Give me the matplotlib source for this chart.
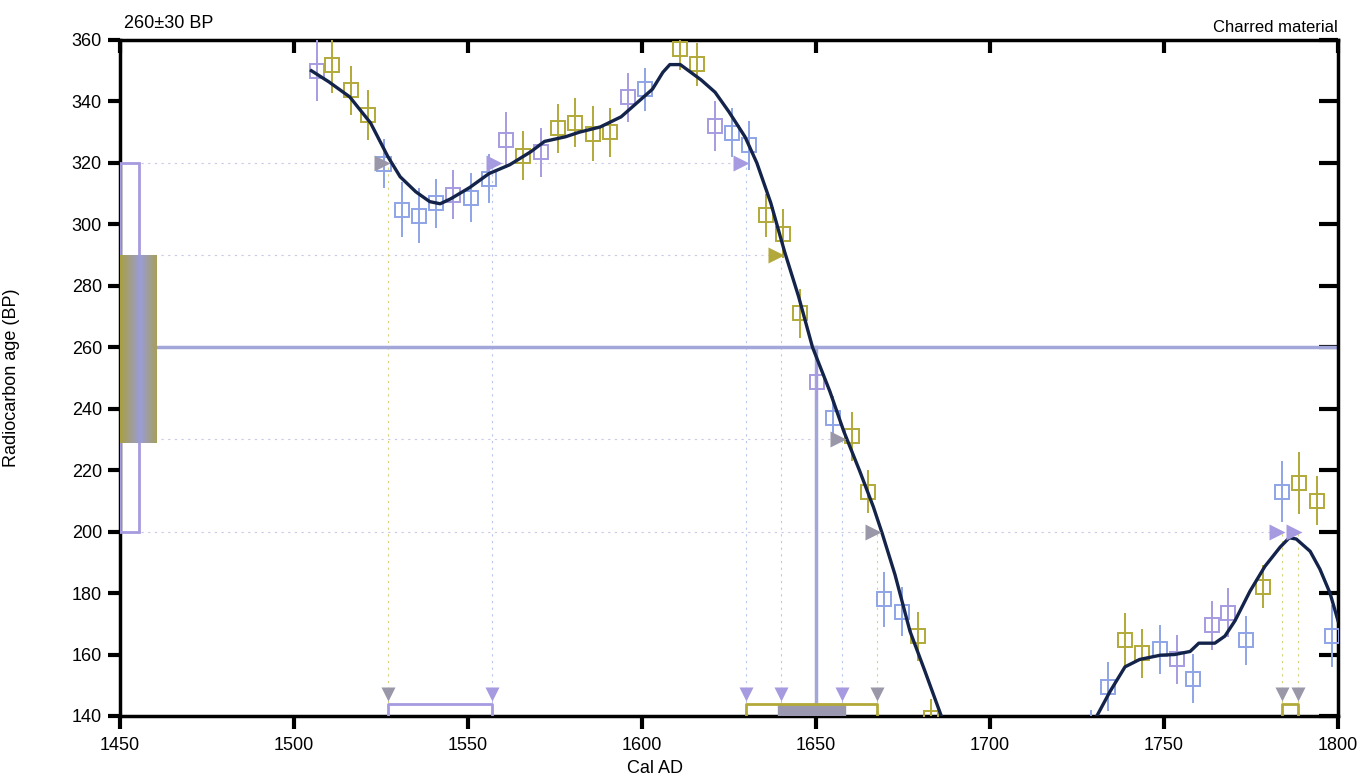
import matplotlib.pyplot as plt
import numpy as np

# calibration curve (two visible segments)
curve_a_year = [1505, 1510, 1516, 1522, 1527, 1530.5, 1535, 1539, 1542, 1545, 1550.5,
                1556, 1562, 1568, 1572, 1578, 1582, 1588, 1594, 1599, 1603, 1606,
                1608, 1611, 1614, 1617, 1621, 1625, 1629.6, 1633, 1637, 1641, 1645, 1649,
                1654, 1658, 1662.6, 1666.5, 1669, 1672.7, 1677, 1681.3, 1686]
curve_a_bp = [350, 346.4, 341.5, 333, 322, 315.5, 310.6, 307.4, 306.7, 308.3, 312,
              316.5, 319.4, 323.6, 327, 328.5, 330, 331.7, 335, 340, 344, 349.5,
              352, 352, 349.5, 347, 343, 336.6, 328.5, 320, 307, 291, 276.5, 260,
              245.6, 232.6, 219.6, 208, 199.5, 186, 167.6, 154.6, 140]
curve_b_year = [1730.7, 1734.5, 1738.8, 1743, 1749, 1753, 1757.5, 1760, 1764.6, 1767.5,
                1770.4, 1774.7, 1779, 1783.4, 1786, 1788, 1792, 1794.8, 1797.7, 1800]
curve_b_bp = [140, 148, 156, 158.4, 159.8, 160, 161, 163.7, 163.7, 166,
              171, 180.6, 188.7, 195, 198, 197.6, 193.6, 187.8, 180, 171]

# measured data points
pt_year = [1506.6, 1511, 1516.4, 1521.3, 1525.9, 1531, 1536, 1540.7, 1545.7, 1550.9,
           1556, 1560.8, 1565.8, 1571, 1575.9, 1580.8, 1585.8, 1590.8, 1596, 1600.9,
           1611, 1615.7, 1621, 1625.8, 1630.7, 1635.6, 1640.5, 1645.4, 1650.2, 1654.9,
           1660.3, 1665, 1669.5, 1674.6, 1679.3, 1683, 1729, 1734, 1738.8, 1743.6,
           1748.9, 1753.6, 1758.4, 1763.7, 1768.5, 1773.7, 1778.5, 1784, 1788.9,
           1793.9, 1798.2]
pt_bp = [350, 351.8, 343.7, 335.6, 319.8, 304.8, 302.8, 306.9, 309.6, 308.7,
         314.9, 327.5, 322.3, 323.4, 331.2, 333.1, 329.5, 329.9, 341.3, 344,
         357.2, 352.1, 332, 329.8, 325.8, 303, 297, 271, 248.8, 237,
         231, 213, 178, 174, 166, 139.4, 135, 149.5, 164.6, 160.4,
         161.7, 158.4, 152.2, 169.5, 173.6, 164.6, 182, 213, 215.8,
         210, 166]
pt_err = [10, 9, 8, 8, 8, 9, 9, 8, 8, 8,
          8, 9, 8, 8, 8, 8, 9, 8, 8, 7,
          7, 7, 8, 8, 8, 7, 8, 8, 6, 7,
          8, 7, 9, 8, 8, 6, 7, 8, 9, 8,
          8, 8, 8, 8, 8, 8, 7, 10, 10,
          8, 10]
pt_kind = ['L', 'O', 'O', 'O', 'B', 'B', 'B', 'B', 'L', 'B',
           'B', 'L', 'O', 'L', 'O', 'O', 'O', 'O', 'L', 'B',
           'O', 'O', 'L', 'B', 'B', 'O', 'O', 'O', 'L', 'B',
           'O', 'O', 'B', 'B', 'O', 'O', 'B', 'B', 'O', 'O',
           'B', 'L', 'B', 'L', 'L', 'B', 'O', 'B', 'O',
           'O', 'B']

# sample date and its intercepts
sample_bp = 260
sample_err = 30
cross_1s = [(1527, 320, 'g'), (1559, 320, 'L'), (1630, 320, 'L'),
            (1640, 290, 'O'), (1658, 230, 'g'), (1668, 200, 'g'),
            (1784, 200, 'L'), (1789, 200, 'L')]
drop_years = [1527, 1557, 1630, 1640, 1657.5, 1667.5, 1784, 1788.6]
drop_from = [320, 320, 320, 290, 230, 200, 200, 200]
drop_kind = ['O', 'L', 'L', 'L', 'L', 'O', 'O', 'O']
ranges = [(1527, 1557), (1630, 1667.5), (1784, 1788.6)]
range_kind = ['L', 'O', 'O']
core_range = (1639, 1658.3)

colors = {'L': '#a69be0', 'B': '#8ea4e6', 'O': '#b2a93a', 'g': '#9a98a8'}

plt.rcParams['font.family'] = ['Liberation Sans', 'DejaVu Sans']

fig = plt.figure(figsize=(13.6, 7.8), dpi=100)
ax = fig.add_axes([120 / 1360, 1 - 716 / 780, 1218 / 1360, 676 / 780])
ax.set_xlim(1450, 1800)
ax.set_ylim(140, 360)

# dotted guides
for y, x1 in [(320, 1630), (290, 1640), (230, 1658), (200, 1785)]:
    ax.plot([1456, x1], [y, y], ls=(0, (2, 4)), lw=0.8, color='#c8c8e8', zorder=1)
for x, y0, k in zip(drop_years, drop_from, drop_kind):
    ax.plot([x, x], [140, y0], ls=(0, (2, 4)), lw=0.8,
            color='#d8d27a' if k == 'O' else '#b8c8ee', zorder=1)

# sample distribution on the y axis
ax.add_patch(plt.Rectangle((1450, sample_bp - 2 * sample_err), 5.5, 4 * sample_err,
                           fill=False, ec=colors['L'], lw=2, zorder=3))
grad = np.linspace(0, 1, 50).reshape(1, -1)
ax.imshow(np.abs(grad - 0.55), extent=(1450, 1460.6, 229, 290), aspect='auto',
          cmap=plt.matplotlib.colors.LinearSegmentedColormap.from_list(
              'mix', ['#9a9cd8', '#a8a040']), zorder=3)
ax.plot([1460.6, 1800], [sample_bp, sample_bp], color='#a3a6d8', lw=2.5, zorder=2)
ax.plot([1650, 1650], [140, sample_bp], color='#a3a6d8', lw=2.5, zorder=2)

# data points
for x, y, e, k in zip(pt_year, pt_bp, pt_err, pt_kind):
    ax.errorbar(x, y, yerr=e, fmt='s', ms=10, mfc='none', mec=colors[k], mew=1.4,
                ecolor=colors[k], elinewidth=1.4, capsize=0, zorder=4)

# calibration curve
ax.plot(curve_a_year, curve_a_bp, color='#13234a', lw=2.4, zorder=5)
ax.plot(curve_b_year, curve_b_bp, color='#13234a', lw=2.4, zorder=5)

# intercept arrows
for x, y, k in cross_1s:
    ax.plot(x - 1.6, y, marker='>', ms=11, color=colors[k], mec='none', zorder=6)
for x, k in zip(drop_years, drop_kind):
    ax.plot(x, 147, marker='v', ms=10, color=colors['g'] if k == 'O' else colors['L'],
            mec='none', zorder=6)

# calibrated ranges
ax.add_patch(plt.Rectangle((core_range[0], 140), core_range[1] - core_range[0], 4,
                           color='#9a98b0', zorder=5))
for (x0, x1), k in zip(ranges, range_kind):
    ax.plot([x0, x0, x1, x1], [140, 144, 144, 140], color=colors[k], lw=2, zorder=5)

ax.set_xticks(np.arange(1450, 1801, 50))
ax.set_yticks(np.arange(140, 361, 20))
ax.tick_params(axis='both', labelsize=13, width=3, length=9, direction='out', pad=6)
ax.tick_params(axis='y', pad=4)
ax.tick_params(top=True, right=True)
for side in ['left', 'bottom', 'top', 'right']:
    ax.spines[side].set_linewidth(2.5)
# inner ticks on top and right
for t in ax.xaxis.get_major_ticks():
    t.tick2line.set_marker(3)
    t.tick2line.set_markersize(9)
for t in ax.yaxis.get_major_ticks():
    t.tick2line.set_marker(0)
    t.tick2line.set_markersize(14)

ax.set_xlabel('Cal AD', fontsize=13)
ax.xaxis.set_label_coords((655 - 120) / 1218, -0.065)
ax.set_ylabel('Radiocarbon age (BP)', fontsize=13)
ax.yaxis.set_label_coords(-0.082, 0.5)
ax.text(0.003, 1.012, '260\u00b130 BP', transform=ax.transAxes, fontsize=13, ha='left', va='bottom')
ax.text(1.0, 1.008, 'Charred material', transform=ax.transAxes, fontsize=12, ha='right', va='bottom')

fig.savefig('out.png', dpi=100)
